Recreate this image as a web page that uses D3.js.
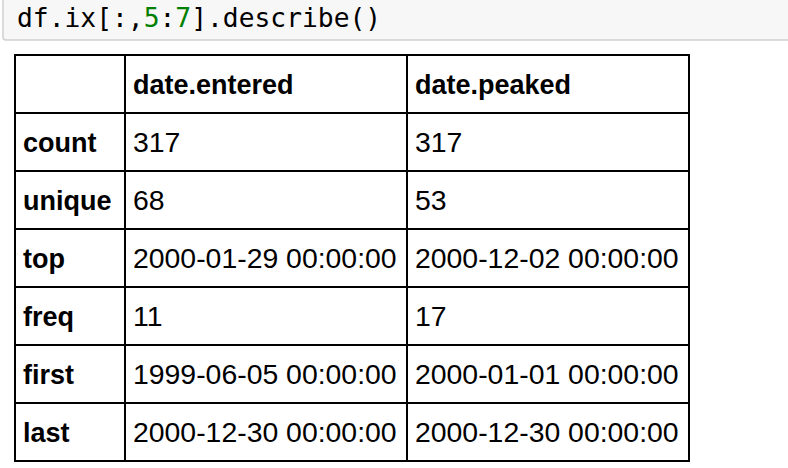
<!DOCTYPE html><html><head><meta charset="utf-8"><script src="https://d3js.org/d3.v7.min.js"></script>
<style>body{margin:0;background:#fff}</style></head><body><svg id="c" width="788" height="468"></svg>
<script>
const columns = ["", "date.entered", "date.peaked"];
const rowLabels = ["count","unique","top","freq","first","last"];
const enteredValues = ["317","68","2000-01-29 00:00:00","11","1999-06-05 00:00:00","2000-12-30 00:00:00"];
const peakedValues = ["317","53","2000-12-02 00:00:00","17","2000-01-01 00:00:00","2000-12-30 00:00:00"];
const svg = d3.select("#c");
svg.append("rect").attr("x",3).attr("y",-5).attr("width",800).attr("height",45).attr("fill","#f7f7f7").attr("stroke","#cfcfcf").attr("stroke-width",1.5).attr("rx",3);
const code = svg.append("text").attr("x",17).attr("y",27).attr("font-family","DejaVu Sans Mono, Liberation Mono, monospace").attr("font-size",26.3).attr("fill","#000");
code.append("tspan").text("df.ix[:,");
code.append("tspan").attr("fill","#008000").text("5");
code.append("tspan").text(":");
code.append("tspan").attr("fill","#008000").text("7");
code.append("tspan").text("].describe()");
const rows = [columns].concat(rowLabels.map((r,i)=>[r,enteredValues[i],peakedValues[i]]));
const y = d3.scaleBand().domain(d3.range(rows.length)).range([55,461]);
const colX = [15,125,407,689];
const g = svg.append("g");
rows.forEach((row,i)=>{
  row.forEach((cell,j)=>{
    const head = i===0||j===0;
    g.append("rect").attr("x",colX[j]).attr("y",y(i)).attr("width",colX[j+1]-colX[j]).attr("height",y.bandwidth()).attr("fill","none").attr("stroke","#000").attr("stroke-width",2);
    g.append("text").attr("x",colX[j]+8).attr("y",y(i)+y.bandwidth()/2+10)
      .attr("font-family","Liberation Sans, Arial, sans-serif").attr("font-size",head?27:28.4)
      .attr("font-weight",head?"bold":"normal").attr("fill","#000").text(cell);
  });
});
</script></body></html>
